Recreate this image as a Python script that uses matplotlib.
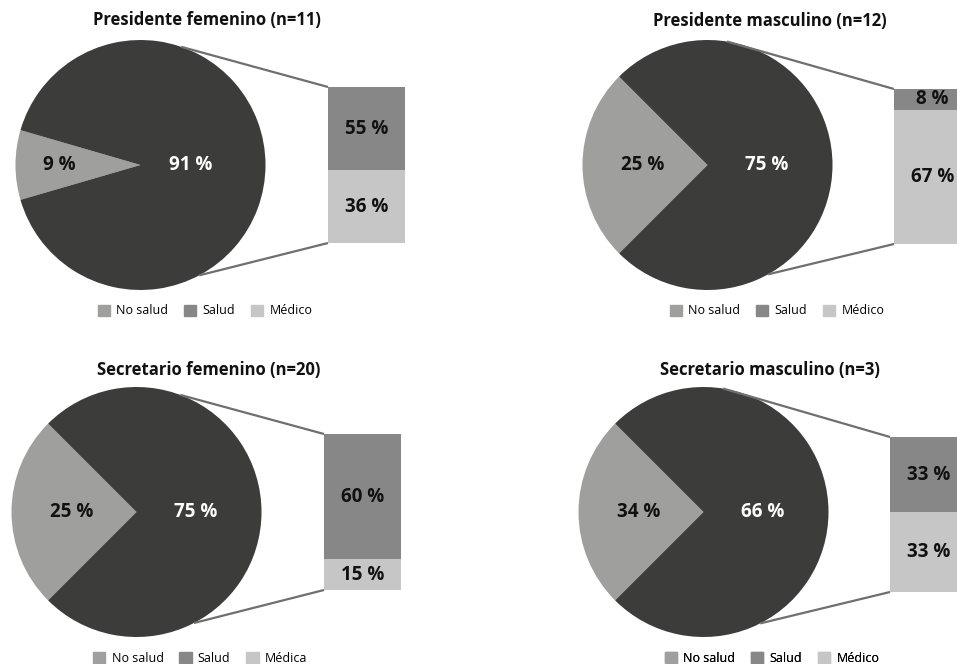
import matplotlib
matplotlib.use("Agg")
import matplotlib.pyplot as plt
import numpy as np
from matplotlib.patches import Patch

plt.rcParams['font.family'] = ['Open Sans', 'DejaVu Sans']

# ---- data ----
titles = ["Presidente femenino (n=11)", "Presidente masculino (n=12)",
          "Secretario femenino (n=20)", "Secretario masculino (n=3)"]
no_salud_pct = [9, 25, 25, 34]          # labels of light slice
resto_pct = [91, 75, 75, 66]            # labels of dark slice
salud_pct = [55, 8, 60, 33]             # bar top segment labels
medico_pct = [36, 67, 15, 33]           # bar bottom segment labels
# sizes as drawn in the picture
pie_light_drawn = [9, 25, 25, 25]
bar_salud_drawn = [83, 21, 125, 75]
bar_medico_drawn = [73, 134, 31, 80]
legend_labels = [["No salud", "Salud", "Médico"], ["No salud", "Salud", "Médico"],
                 ["No salud", "Salud", "Médica"], ["No salud", "Salud", "Médico"]]

# ---- layout (pixel coordinates, y measured from top) ----
W, H = 957, 664
pie_centers = [(140.5, 165), (707.5, 165), (136.5, 512), (703.5, 512)]
pie_r = 125
bar_left = [328, 894, 324, 890]
bar_top = [87, 89, 434, 437]
bar_w = 77
title_pos = [(207, 20), (770, 21), (209, 370), (770, 370)]
legend_pos = [(205, 311), (777, 311), (200, 658), (772, 658)]
conn_angles = [(71, -62), (81, -61), (69.5, -62.6), (81, -63)]

C_DARK = "#3c3c3b"
C_NOSALUD = "#9f9f9e"
C_SALUD = "#878787"
C_MEDICO = "#c6c6c6"
C_LINE = "#6f6f6f"

fig = plt.figure(figsize=(W / 100, H / 100), dpi=100)
ax = fig.add_axes([0, 0, 1, 1])
ax.set_xlim(0, W)
ax.set_ylim(0, H)
ax.set_aspect('equal')
ax.axis('off')

def Y(y):
    return H - y

LBL = 13.5
for i in range(4):
    cx, cy = pie_centers[i]
    light = pie_light_drawn[i]
    start = 180 - light * 360 / 100 / 2
    ax.pie([light, 100 - light], colors=[C_NOSALUD, C_DARK], startangle=start,
           center=(cx, Y(cy)), radius=pie_r, counterclock=True,
           wedgeprops=dict(linewidth=0), frame=True)

    # connector lines
    bx, bt = bar_left[i], bar_top[i]
    hb = bar_salud_drawn[i] + bar_medico_drawn[i]
    a1, a2 = np.radians(conn_angles[i][0]), np.radians(conn_angles[i][1])
    ax.plot([cx + pie_r * np.cos(a1), bx], [Y(cy) + pie_r * np.sin(a1), Y(bt)],
            color=C_LINE, lw=1.6, solid_capstyle='butt', zorder=1)
    ax.plot([cx + pie_r * np.cos(a2), bx], [Y(cy) + pie_r * np.sin(a2), Y(bt + hb)],
            color=C_LINE, lw=1.6, solid_capstyle='butt', zorder=1)

    # bar
    s, m = bar_salud_drawn[i], bar_medico_drawn[i]
    ax.bar(bx, s, width=bar_w, bottom=Y(bt) - s, align='edge', color=C_SALUD,
           linewidth=0, zorder=2)
    ax.bar(bx, m, width=bar_w, bottom=Y(bt) - s - m, align='edge', color=C_MEDICO,
           linewidth=0, zorder=2)
    ax.text(bx + bar_w / 2, Y(bt) - s / 2, f"{salud_pct[i]} %", ha='center', va='center',
            fontsize=LBL, fontweight='bold', color='#111111', zorder=3)
    ax.text(bx + bar_w / 2, Y(bt) - s - m / 2, f"{medico_pct[i]} %", ha='center',
            va='center', fontsize=LBL, fontweight='bold', color='#111111', zorder=3)

    # pie labels
    d_light = 0.65 if light < 15 else 0.52
    d_dark = 0.4 if light < 15 else 0.47
    ax.text(cx - d_light * pie_r, Y(cy), f"{no_salud_pct[i]} %", ha='center', va='center',
            fontsize=LBL, fontweight='bold', color='#111111')
    ax.text(cx + d_dark * pie_r, Y(cy), f"{resto_pct[i]} %", ha='center', va='center',
            fontsize=LBL, fontweight='bold', color='white')

    # title
    ax.text(title_pos[i][0], Y(title_pos[i][1]), titles[i], ha='center', va='center',
            fontsize=12, fontweight='bold', color='#111111')

    # legend
    handles = [Patch(color=c) for c in (C_NOSALUD, C_SALUD, C_MEDICO)]
    leg = ax.legend(handles, legend_labels[i], loc='center', ncol=3, frameon=False,
                    bbox_to_anchor=(legend_pos[i][0], Y(legend_pos[i][1])),
                    bbox_transform=ax.transData, fontsize=9, handlelength=1.0,
                    handleheight=1.0, handletextpad=0.5, columnspacing=1.25,
                    borderpad=0, borderaxespad=0)
    ax.add_artist(leg)

ax.set_xlim(0, W)
ax.set_ylim(0, H)
fig.savefig("out.png", dpi=100)
